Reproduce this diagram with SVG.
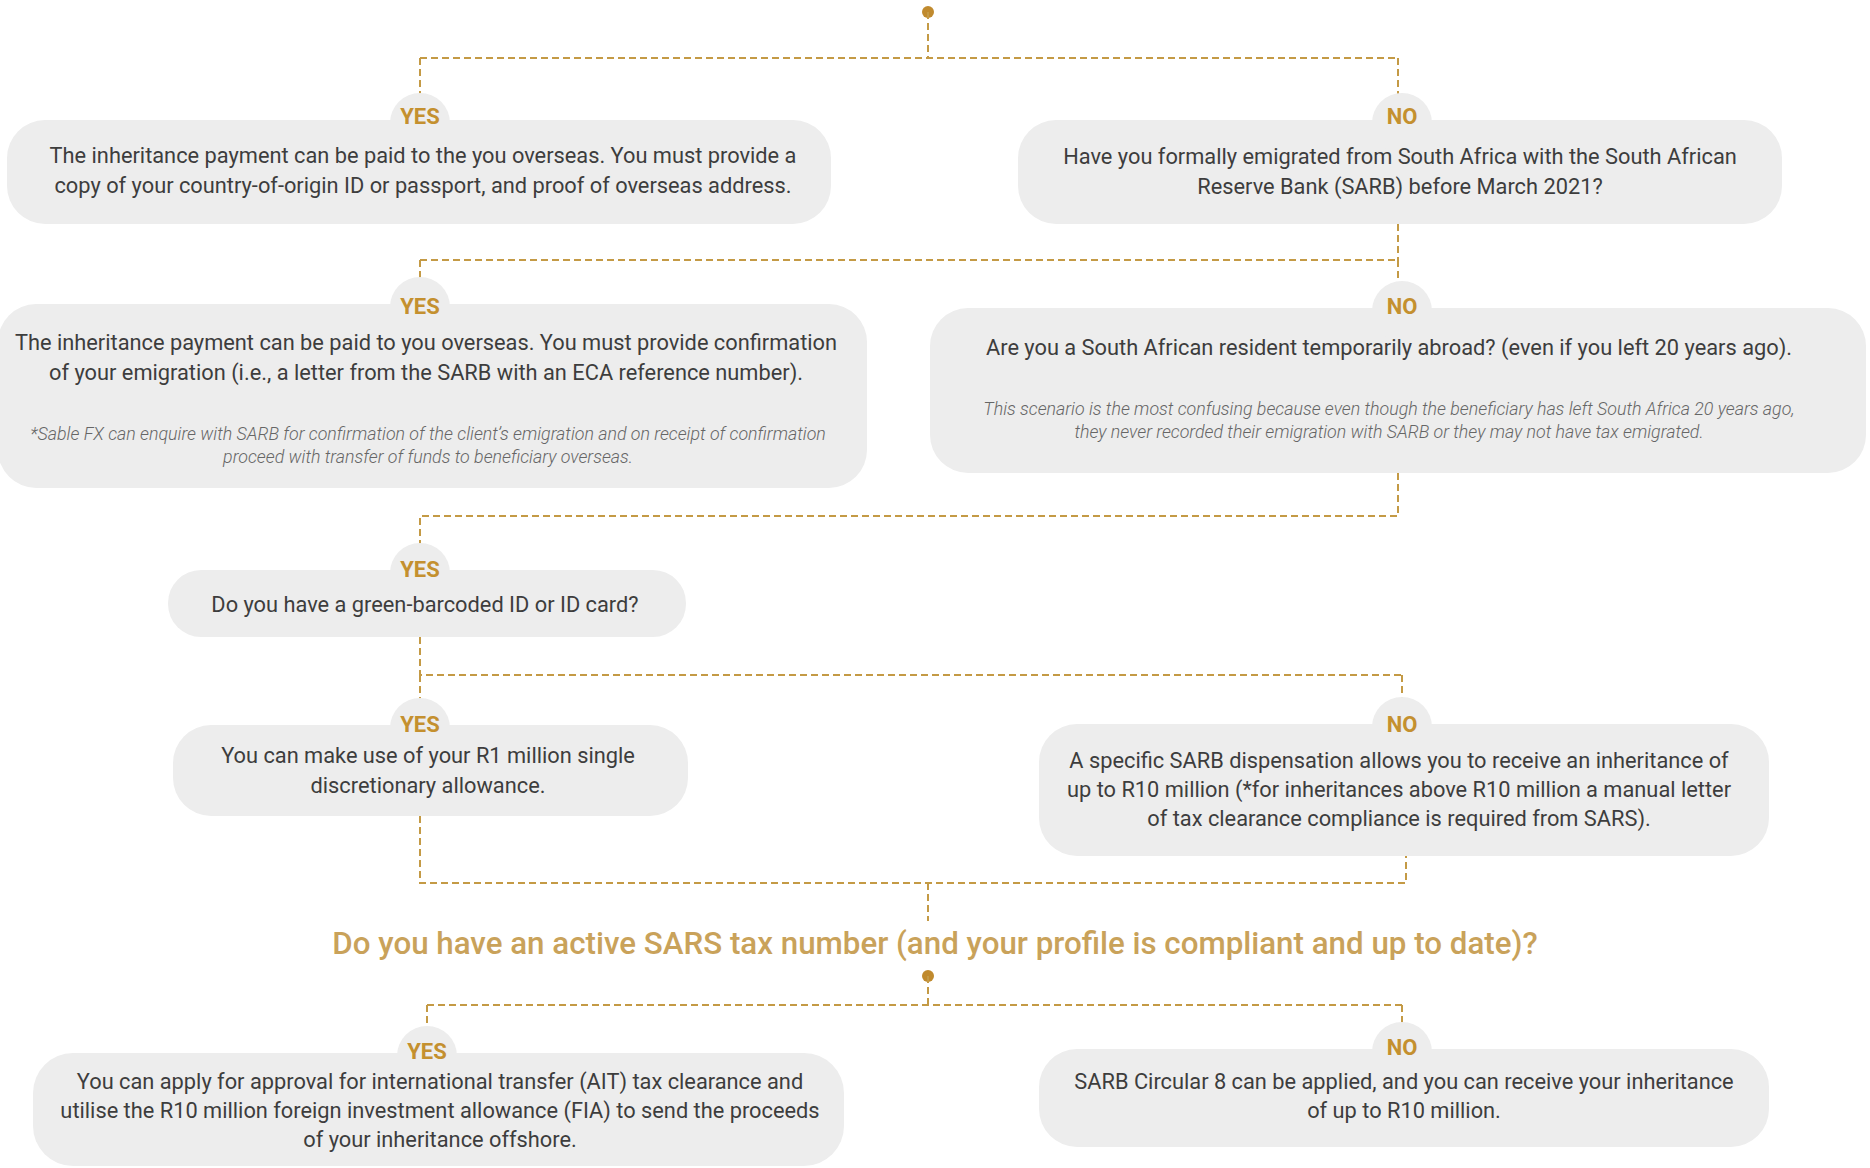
<svg xmlns="http://www.w3.org/2000/svg" width="1870" height="1168" viewBox="0 0 1870 1168">
<style>
.box{fill:#ededed}
.con{fill:none;stroke:#c49a45;stroke-width:2;stroke-dasharray:7 4}
.dot{fill:#c08a2e}
.lab{font-family:Roboto,"Open Sans",sans-serif;font-weight:700;font-size:22px;fill:#c4902f;text-anchor:middle}
.t{font-family:Roboto,"Open Sans",sans-serif;font-size:21.8px;fill:#3d3d3d;text-anchor:middle}
.it{font-family:Roboto,"Open Sans",sans-serif;font-style:italic;font-weight:300;font-size:17.8px;fill:#666666;text-anchor:middle}
.q{font-family:Roboto,"Open Sans",sans-serif;font-weight:500;font-size:31.3px;fill:#c9a25a;text-anchor:middle}
</style>
<rect width="1870" height="1168" fill="#ffffff"/>
<g id="connectors">
<circle class="dot" cx="928" cy="12" r="6"/>
<path class="con" d="M928 12 V58 M420 58 H1398 M420 58 V100 M1398 58 V100"/>
<path class="con" d="M1398 224 V260 M420 260 H1398 M420 260 V300 M1398 260 V300"/>
<path class="con" d="M1398 473 V516 H420 V560"/>
<path class="con" d="M420 637 V675 H1402 M420 675 V715 M1402 675 V715"/>
<path class="con" d="M420 816 V883 H1406 V856 M928 883 V921"/>
<circle class="dot" cx="928" cy="976" r="6"/>
<path class="con" d="M928 976 V1005 M427 1005 H1402 M427 1005 V1045 M1402 1005 V1045"/>
</g>
<g id="q1-yes">
<rect class="box" x="7" y="120" width="824" height="104" rx="38"/>
<circle class="box" cx="420" cy="123" r="30"/>
<text class="lab" x="420" y="124">YES</text>
<text class="t" x="423" y="163">The inheritance payment can be paid to the you overseas. You must provide a</text>
<text class="t" x="423" y="193">copy of your country-of-origin ID or passport, and proof of overseas address.</text>
</g>
<g id="q1-no">
<rect class="box" x="1018" y="120" width="764" height="104" rx="38"/>
<circle class="box" cx="1402" cy="123" r="30"/>
<text class="lab" x="1402" y="124">NO</text>
<text class="t" x="1400" y="164">Have you formally emigrated from South Africa with the South African</text>
<text class="t" x="1400" y="194">Reserve Bank (SARB) before March 2021?</text>
</g>
<g id="q2-yes">
<rect class="box" x="-2" y="304" width="869" height="184" rx="38"/>
<circle class="box" cx="420" cy="307" r="30"/>
<text class="lab" x="420" y="314">YES</text>
<text class="t" x="426" y="350">The inheritance payment can be paid to you overseas. You must provide confirmation</text>
<text class="t" x="426" y="380">of your emigration (i.e., a letter from the SARB with an ECA reference number).</text>
<text class="it" x="428" y="440">*Sable FX can enquire with SARB for confirmation of the client’s emigration and on receipt of confirmation</text>
<text class="it" x="428" y="463">proceed with transfer of funds to beneficiary overseas.</text>
</g>
<g id="q2-no">
<rect class="box" x="930" y="308" width="936" height="165" rx="38"/>
<circle class="box" cx="1402" cy="311" r="30"/>
<text class="lab" x="1402" y="314">NO</text>
<text class="t" x="1389" y="355">Are you a South African resident temporarily abroad? (even if you left 20 years ago).</text>
<text class="it" x="1389" y="415">This scenario is the most confusing because even though the beneficiary has left South Africa 20 years ago,</text>
<text class="it" x="1389" y="438">they never recorded their emigration with SARB or they may not have tax emigrated.</text>
</g>
<g id="q3-yes">
<rect class="box" x="168" y="570" width="518" height="67" rx="33"/>
<circle class="box" cx="420" cy="573" r="30"/>
<text class="lab" x="420" y="577">YES</text>
<text class="t" x="425" y="612">Do you have a green-barcoded ID or ID card?</text>
</g>
<g id="q4-yes">
<rect class="box" x="173" y="725" width="515" height="91" rx="38"/>
<circle class="box" cx="420" cy="728" r="30"/>
<text class="lab" x="420" y="732">YES</text>
<text class="t" x="428" y="763">You can make use of your R1 million single</text>
<text class="t" x="428" y="793">discretionary allowance.</text>
</g>
<g id="q4-no">
<rect class="box" x="1039" y="724" width="730" height="132" rx="38"/>
<circle class="box" cx="1402" cy="727" r="30"/>
<text class="lab" x="1402" y="732">NO</text>
<text class="t" x="1399" y="768">A specific SARB dispensation allows you to receive an inheritance of</text>
<text class="t" x="1399" y="797">up to R10 million (*for inheritances above R10 million a manual letter</text>
<text class="t" x="1399" y="826">of tax clearance compliance is required from SARS).</text>
</g>
<g id="q5">
<text class="q" x="935" y="954">Do you have an active SARS tax number (and your profile is compliant and up to date)?</text>
</g>
<g id="q5-yes">
<rect class="box" x="33" y="1053" width="811" height="113" rx="40"/>
<circle class="box" cx="427" cy="1056" r="30"/>
<text class="lab" x="427" y="1059">YES</text>
<text class="t" x="440" y="1089">You can apply for approval for international transfer (AIT) tax clearance and</text>
<text class="t" x="440" y="1118">utilise the R10 million foreign investment allowance (FIA) to send the proceeds</text>
<text class="t" x="440" y="1147">of your inheritance offshore.</text>
</g>
<g id="q5-no">
<rect class="box" x="1039" y="1049" width="730" height="98" rx="38"/>
<circle class="box" cx="1402" cy="1052" r="30"/>
<text class="lab" x="1402" y="1055">NO</text>
<text class="t" x="1404" y="1089">SARB Circular 8 can be applied, and you can receive your inheritance</text>
<text class="t" x="1404" y="1118">of up to R10 million.</text>
</g>
</svg>
